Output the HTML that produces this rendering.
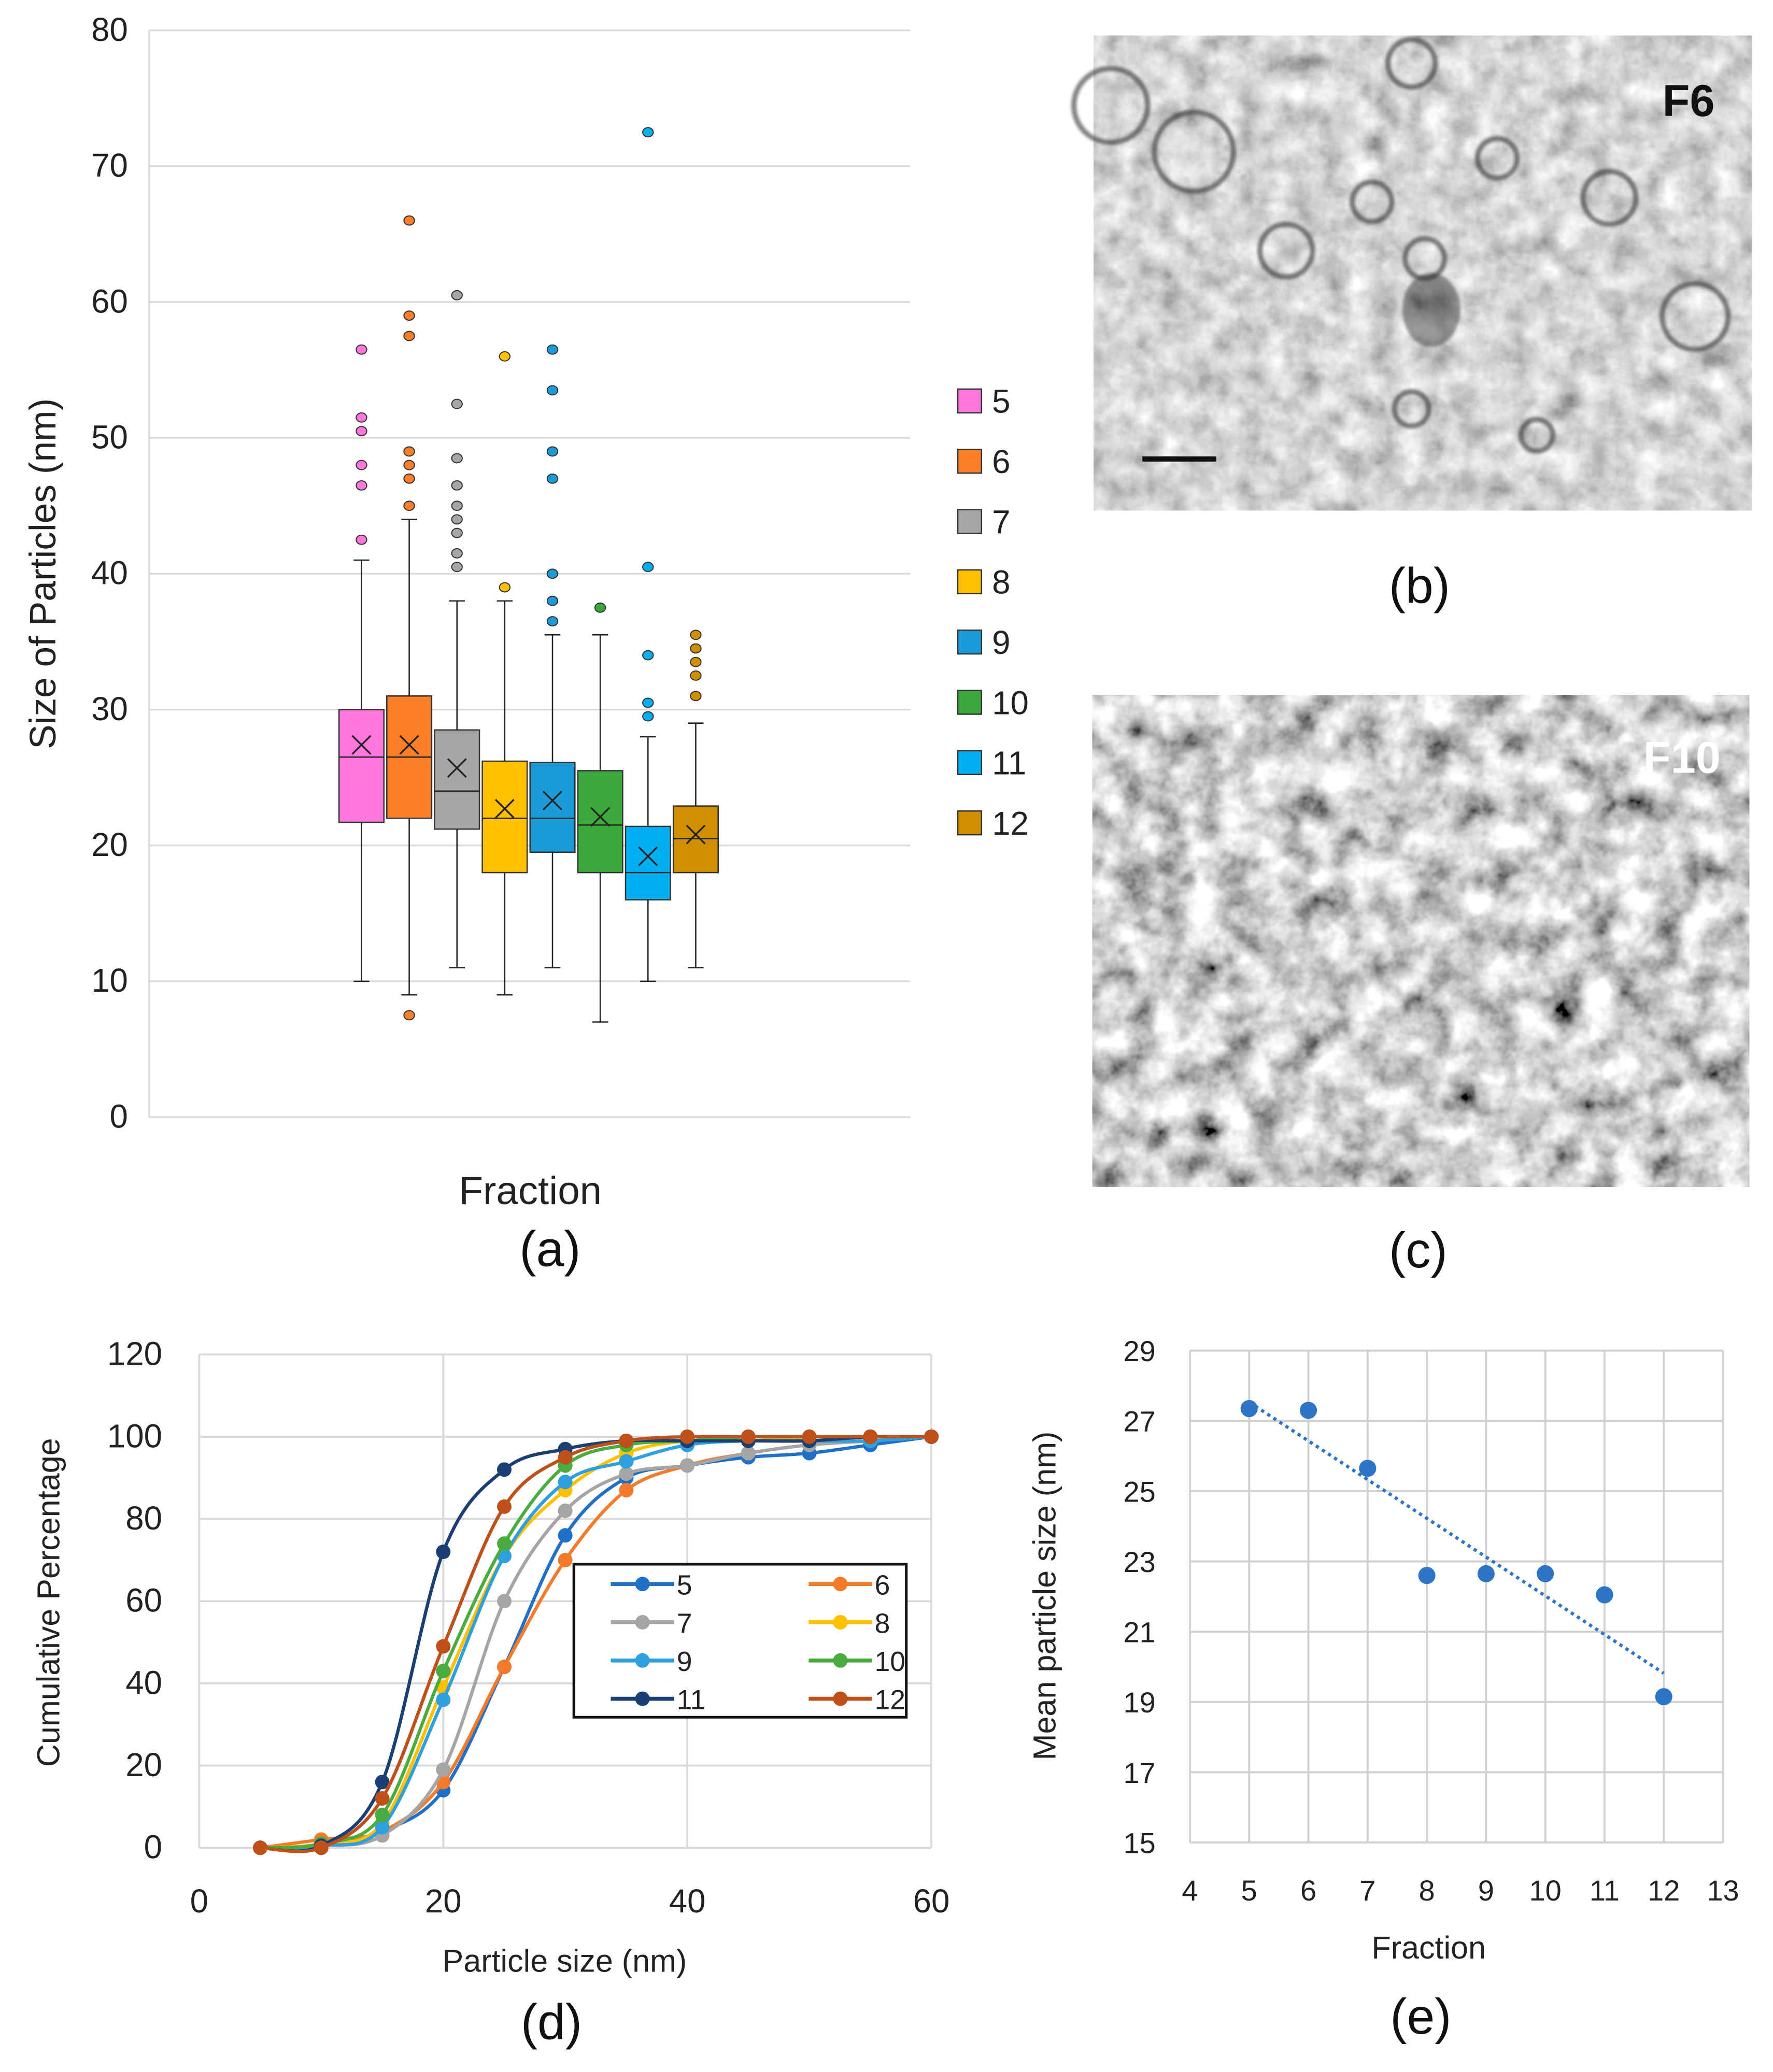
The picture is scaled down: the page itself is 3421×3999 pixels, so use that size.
<!DOCTYPE html>
<html><head><meta charset="utf-8"><style>
html,body{margin:0;padding:0;background:#fff;}
svg{display:block;font-family:"Liberation Sans",sans-serif;}
</style></head><body>
<svg id="fig" width="3421" height="3999" viewBox="0 0 1344 1571" preserveAspectRatio="none" xmlns="http://www.w3.org/2000/svg">
<defs>
<filter id="noiseB" x="0" y="0" width="100%" height="100%">
<feTurbulence type="fractalNoise" baseFrequency="0.05" numOctaves="4" seed="3"/>
<feColorMatrix type="matrix" values="0.33 0.33 0.33 0 0  0.33 0.33 0.33 0 0  0.33 0.33 0.33 0 0  0 0 0 0 1"/>
<feComponentTransfer><feFuncR type="linear" slope="1.5" intercept="-0.08"/><feFuncG type="linear" slope="1.5" intercept="-0.08"/><feFuncB type="linear" slope="1.5" intercept="-0.08"/></feComponentTransfer>
</filter>
<filter id="noiseC" x="0" y="0" width="100%" height="100%">
<feTurbulence type="fractalNoise" baseFrequency="0.04" numOctaves="4" seed="9"/>
<feColorMatrix type="matrix" values="0.33 0.33 0.33 0 0  0.33 0.33 0.33 0 0  0.33 0.33 0.33 0 0  0 0 0 0 1"/>
<feComponentTransfer><feFuncR type="linear" slope="2.8" intercept="-0.75"/><feFuncG type="linear" slope="2.8" intercept="-0.75"/><feFuncB type="linear" slope="2.8" intercept="-0.75"/></feComponentTransfer>
</filter>
<filter id="blur1"><feGaussianBlur stdDeviation="1.2"/></filter>
</defs>
<g id="pa"></g>
<g id="pb">
<rect x="829" y="27" width="499" height="360" fill="#aaa" filter="url(#noiseB)"/>
<g fill="none" stroke="#333" stroke-width="4" opacity="0.6" filter="url(#blur1)">
<circle cx="842" cy="80" r="28"/><circle cx="905" cy="115" r="30"/><circle cx="1070" cy="48" r="18"/><circle cx="1135" cy="120" r="15"/><circle cx="1040" cy="153" r="15"/><circle cx="1080" cy="196" r="15"/><circle cx="1285" cy="240" r="25"/><circle cx="1070" cy="310" r="13"/><circle cx="1165" cy="330" r="12"/><circle cx="975" cy="190" r="20"/><circle cx="1220" cy="150" r="20"/>
</g>
<ellipse cx="1085" cy="235" rx="22" ry="28" fill="#222" opacity="0.45" filter="url(#blur1)"/>
<line x1="866" y1="348" x2="922" y2="348" stroke="#111" stroke-width="4"/>
<text x="1280" y="88" font-size="34" font-weight="bold" text-anchor="middle" fill="#111">F6</text>
<text x="1076" y="457" font-size="38" text-anchor="middle" fill="#111">(b)</text>
</g>
<g id="pc">
<rect x="828" y="527" width="498" height="373" fill="#999" filter="url(#noiseC)"/>
<text x="1275" y="586" font-size="34" font-weight="bold" text-anchor="middle" fill="#fff">F10</text>
<text x="1075" y="961" font-size="38" text-anchor="middle" fill="#111">(c)</text>
</g>
<g id="pd"></g>
<g id="pe"></g>
</svg>
<script>
// ---- Panel (a) data ----
const boxCats = ["5","6","7","8","9","10","11","12"];
const boxColors = ["#ff77dd","#fb7e28","#a6a6a6","#ffc000","#1b9bd7","#3aa83a","#00b0f0","#d08f00"];
const whiskLo = [10,9,11,9,11,7,10,11];
const q1 = [21.7,22,21.2,18,19.5,18,16,18];
const med = [26.5,26.5,24,22,22,21.5,18,20.5];
const q3 = [30,31,28.5,26.2,26.1,25.5,21.4,22.9];
const whiskHi = [41,44,38,38,35.5,35.5,28,29];
const boxMeans = [27.4,27.4,25.7,22.7,23.3,22.1,19.2,20.8];
const outliers = [[42.5,46.5,48,50.5,51.5,56.5],[7.5,45,47,48,49,57.5,59,66],[40.5,41.5,43,44,45,46.5,48.5,52.5,60.5],[39,56],[36.5,38,40,47,49,53.5,56.5],[37.5],[29.5,30.5,34,40.5,72.5],[31,32.5,33.5,34.5,35.5]];
const yTicksA = [0,10,20,30,40,50,60,70,80];
// ---- Panel (d) data ----
const sizesD = [5,10,15,20,25,30,35,40,45,50,55,60];
const seriesNames = ["5","6","7","8","9","10","11","12"];
const seriesColors = ["#2070c8","#f47b2a","#a5a5a5","#ffc000","#2ea0e0","#4aac3f","#1a3f73","#c0501a"];
const cum5 = [0,0.5,4,14,44,76,90,93,95,96,98,100];
const cum6 = [0,2,4,16,44,70,87,93,96,98,99,100];
const cum7 = [0,0.5,3,19,60,82,91,93,96,98,99,100];
const cum8 = [0,1,6,39,71,87,96,99,99,100,100,100];
const cum9 = [0,0.5,5,36,71,89,94,98,99,99,99,100];
const cum10 = [0,1,8,43,74,93,98,99,100,100,100,100];
const cum11 = [0,0.5,16,72,92,97,99,99,99,99,100,100];
const cum12 = [0,0,12,49,83,95,99,100,100,100,100,100];
const xTicksD = [0,20,40,60];
const yTicksD = [0,20,40,60,80,100,120];
// ---- Panel (e) data ----
const fractionsE = [5,6,7,8,9,10,11,12];
const meansE = [27.35,27.3,25.65,22.6,22.65,22.65,22.05,19.15];
const xTicksE = [4,5,6,7,8,9,10,11,12,13];
const yTicksE = [15,17,19,21,23,25,27,29];

const NS="http://www.w3.org/2000/svg";
function mk(parent,tag,attrs,text){const e=document.createElementNS(NS,tag);for(const k in attrs)e.setAttribute(k,attrs[k]);if(text!==undefined)e.textContent=text;parent.appendChild(e);return e;}

// ===== Panel (a) =====
const pa=document.getElementById('pa');
const ya=v=>847-v*10.3;
const bx=i=>274+i*36.2;
yTicksA.forEach(t=>{
  const l=mk(pa,'line',{x1:113,x2:690,y1:ya(t),y2:ya(t),stroke:'#d9d9d9','stroke-width':1.3});
  
  
  const tx=mk(pa,'text',{x:97,y:ya(t)+8,'font-size':25,'text-anchor':'end',fill:'#222'},String(t));
  
  
});
const axA=mk(pa,'line',{x1:113,x2:113,y1:ya(0),y2:ya(80),stroke:'#d9d9d9','stroke-width':1.3});


boxCats.forEach((c,i)=>{
  const g=mk(pa,'g',{});
  
  
  const x=bx(i),hw=17;
  mk(g,'line',{x1:x,x2:x,y1:ya(whiskLo[i]),y2:ya(q1[i]),stroke:'#222','stroke-width':1});
  mk(g,'line',{x1:x,x2:x,y1:ya(q3[i]),y2:ya(whiskHi[i]),stroke:'#222','stroke-width':1});
  mk(g,'line',{x1:x-6,x2:x+6,y1:ya(whiskLo[i]),y2:ya(whiskLo[i]),stroke:'#222','stroke-width':1});
  mk(g,'line',{x1:x-6,x2:x+6,y1:ya(whiskHi[i]),y2:ya(whiskHi[i]),stroke:'#222','stroke-width':1});
  mk(g,'rect',{x:x-hw,y:ya(q3[i]),width:2*hw,height:ya(q1[i])-ya(q3[i]),fill:boxColors[i],stroke:'#333','stroke-width':1});
  mk(g,'line',{x1:x-hw,x2:x+hw,y1:ya(med[i]),y2:ya(med[i]),stroke:'#222','stroke-width':1});
  const my=ya(boxMeans[i]);
  mk(g,'path',{d:`M${x-7},${my-7}L${x+7},${my+7}M${x-7},${my+7}L${x+7},${my-7}`,stroke:'#222','stroke-width':1.3,fill:'none'});
  outliers[i].forEach(v=>{
    const o=mk(g,'ellipse',{cx:x,cy:ya(v),rx:4,ry:3.5,fill:boxColors[i],stroke:'#333','stroke-width':0.8});
    
    
  });
  const lg=mk(pa,'g',{});
  
  
  const ly=304+i*45.7;
  mk(lg,'rect',{x:726,y:ly-9,width:18,height:18,fill:boxColors[i],stroke:'#333','stroke-width':1});
  mk(lg,'text',{x:752,y:ly+9,'font-size':25,fill:'#222'},c);
});
let t;
t=mk(pa,'text',{x:0,y:0,'font-size':28,'text-anchor':'middle',fill:'#222',transform:'translate(42,435) rotate(-90)'},'Size of Particles (nm)');


t=mk(pa,'text',{x:402,y:913,'font-size':30,'text-anchor':'middle',fill:'#222'},'Fraction');


t=mk(pa,'text',{x:417,y:960,'font-size':38,'text-anchor':'middle',fill:'#111'},'(a)');



// ===== Panel (d) =====
const pd=document.getElementById('pd');
const xd=v=>151+v*9.25, yd=v=>1401-v*3.1167;
yTicksD.forEach(v=>{
  const l=mk(pd,'line',{x1:xd(0),x2:xd(60),y1:yd(v),y2:yd(v),stroke:'#d9d9d9','stroke-width':1.5});
  
  
  const tx=mk(pd,'text',{x:123,y:yd(v)+8,'font-size':25,'text-anchor':'end',fill:'#222'},String(v));
  
  
});
xTicksD.forEach(v=>{
  const l=mk(pd,'line',{x1:xd(v),x2:xd(v),y1:yd(0),y2:yd(120),stroke:'#d9d9d9','stroke-width':1.5});
  
  
  const tx=mk(pd,'text',{x:xd(v),y:1450,'font-size':25,'text-anchor':'middle',fill:'#222'},String(v));
  
  
});
const allCum=[cum5,cum6,cum7,cum8,cum9,cum10,cum11,cum12];
function smoothPath(pts){
  let d=`M${pts[0][0]},${pts[0][1]}`;
  for(let i=0;i<pts.length-1;i++){
    const p0=pts[Math.max(0,i-1)],p1=pts[i],p2=pts[i+1],p3=pts[Math.min(pts.length-1,i+2)];
    const c1=[p1[0]+(p2[0]-p0[0])/6,p1[1]+(p2[1]-p0[1])/6];
    const c2=[p2[0]-(p3[0]-p1[0])/6,p2[1]-(p3[1]-p1[1])/6];
    d+=`C${c1[0]},${c1[1]} ${c2[0]},${c2[1]} ${p2[0]},${p2[1]}`;
  }
  return d;
}
allCum.forEach((arr,s)=>{
  const g=mk(pd,'g',{});
  
  
  const pts=sizesD.map((x,i)=>[xd(x),yd(arr[i])]);
  mk(g,'path',{d:smoothPath(pts),fill:'none',stroke:seriesColors[s],'stroke-width':2.5});
  pts.forEach(p=>{
    const c=mk(g,'circle',{cx:p[0],cy:p[1],r:5.5,fill:seriesColors[s]});
    
    
  });
});
const lgd=mk(pd,'g',{});


mk(lgd,'rect',{x:435,y:1186,width:252,height:116,fill:'#fff',stroke:'#111','stroke-width':2});
seriesNames.forEach((n,i)=>{
  const col=i%2,row=Math.floor(i/2);
  const lx=463+col*150, ly=1201+row*29;
  const e=mk(lgd,'g',{});
  
  
  mk(e,'line',{x1:lx,x2:lx+48,y1:ly,y2:ly,stroke:seriesColors[i],'stroke-width':3});
  mk(e,'circle',{cx:lx+24,cy:ly,r:5.5,fill:seriesColors[i]});
  mk(e,'text',{x:lx+50,y:ly+8,'font-size':21,fill:'#222'},n);
});
t=mk(pd,'text',{x:0,y:0,'font-size':24,'text-anchor':'middle',fill:'#222',transform:'translate(45,1215) rotate(-90)'},'Cumulative Percentage');


t=mk(pd,'text',{x:428,y:1495,'font-size':24,'text-anchor':'middle',fill:'#222'},'Particle size (nm)');


t=mk(pd,'text',{x:418,y:1546,'font-size':38,'text-anchor':'middle',fill:'#111'},'(d)');



// ===== Panel (e) =====
const pe=document.getElementById('pe');
const xe=v=>902+(v-4)*44.9, ye=v=>1397-(v-15)*26.64;
yTicksE.forEach(v=>{
  const l=mk(pe,'line',{x1:xe(4),x2:xe(13),y1:ye(v),y2:ye(v),stroke:'#d0d0d0','stroke-width':1.5});
  
  
  const tx=mk(pe,'text',{x:876,y:ye(v)+8,'font-size':22,'text-anchor':'end',fill:'#222'},String(v));
  
  
});
xTicksE.forEach(v=>{
  const l=mk(pe,'line',{x1:xe(v),x2:xe(v),y1:ye(15),y2:ye(29),stroke:'#d0d0d0','stroke-width':1.5});
  
  
  const tx=mk(pe,'text',{x:xe(v),y:1441,'font-size':22,'text-anchor':'middle',fill:'#222'},String(v));
  
  
});
const n=fractionsE.length;
const mx=fractionsE.reduce((a,b)=>a+b,0)/n, my=meansE.reduce((a,b)=>a+b,0)/n;
let sxy=0,sxx=0;fractionsE.forEach((x,i)=>{sxy+=(x-mx)*(meansE[i]-my);sxx+=(x-mx)*(x-mx);});
const slope=sxy/sxx, icpt=my-slope*mx;
const x0=fractionsE[0], x1=fractionsE[n-1];
const tl=mk(pe,'line',{x1:xe(x0),y1:ye(icpt+slope*x0),x2:xe(x1),y2:ye(icpt+slope*x1),stroke:'#2e75c6','stroke-width':2.5,'stroke-dasharray':'2.5 3'});


fractionsE.forEach((f,i)=>{
  const c=mk(pe,'circle',{cx:xe(f),cy:ye(meansE[i]),r:6.5,fill:'#2e75c6'});
  
  
});
t=mk(pe,'text',{x:0,y:0,'font-size':24,'text-anchor':'middle',fill:'#222',transform:'translate(800,1210) rotate(-90)'},'Mean particle size (nm)');


t=mk(pe,'text',{x:1083,y:1485,'font-size':24,'text-anchor':'middle',fill:'#222'},'Fraction');


t=mk(pe,'text',{x:1077,y:1542,'font-size':38,'text-anchor':'middle',fill:'#111'},'(e)');


</script>
</body></html>
